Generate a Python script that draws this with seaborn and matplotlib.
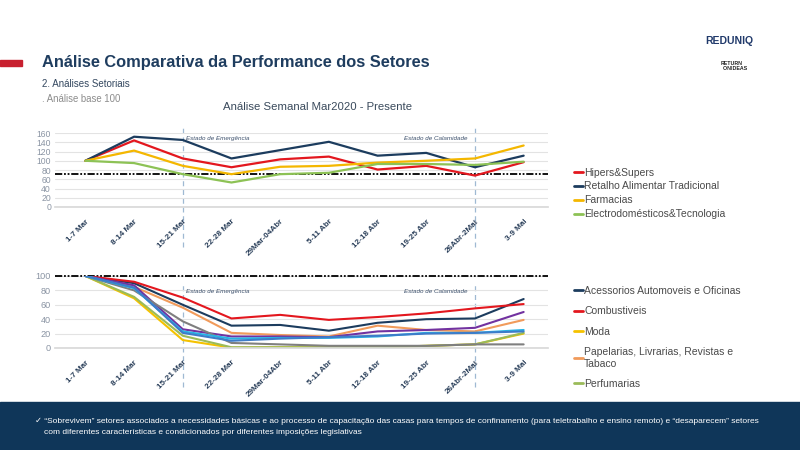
import numpy as np
import pandas as pd
import matplotlib
matplotlib.use("Agg")
import matplotlib.pyplot as plt
import seaborn as sns
from matplotlib.lines import Line2D
from matplotlib.patches import Rectangle
import matplotlib.transforms as mtransforms

# ---------------- data ----------------
weeks = ["1-7 Mar", "8-14 Mar", "15-21 Mar", "22-28 Mar", "29Mar-04Abr",
         "5-11 Abr", "12-18 Abr", "19-25 Abr", "26Abr-2Mai", "3-9 Mai"]

top_names = ["Hipers&Supers", "Retalho Alimentar Tradicional", "Farmacias",
             "Electrodomésticos&Tecnologia"]
hipers = [100, 144, 105, 86, 103, 109, 81, 89, 68, 97]
retalho = [100, 152, 145, 105, 123, 141, 111, 117, 86, 111]
farmacias = [100, 122, 89, 71, 87, 89, 96, 100, 105, 133]
electro = [100, 95, 71, 53, 71, 74, 93, 93, 91, 98]
top_colors = ["#e3171e", "#1c3c5e", "#f4b700", "#8dc255"]
top_ref = 72

bottom_names = ["Acessorios Automoveis e Oficinas", "Combustiveis", "Moda",
                "Papelarias, Livrarias, Revistas e\nTabaco", "Perfumarias",
                "Outro 1", "Outro 2", "Outro 3", "Outro 4"]
acessorios = [100, 90, 60, 31, 32, 24, 35, 40, 41, 68]
combustiveis = [100, 92, 70, 41, 46, 39, 43, 48, 55, 61]
moda = [100, 69, 11, 0.5, 1, 1, 1, 3, 5, 20]
papelarias = [100, 85, 56, 21, 18, 16, 31, 25, 23, 39]
perfumarias = [100, 71, 17, 1, 1, 1, 1, 3, 5, 21]
outro1 = [100, 87, 26, 16, 16, 15, 23, 25, 28, 50]   # purple
outro2 = [100, 80, 37, 7, 5, 3, 3, 3, 5, 5]          # grey
outro3 = [100, 83, 23, 13, 14, 14, 16, 21, 21, 25]   # light blue
outro4 = [100, 84, 21, 10, 13, 15, 17, 20, 21, 23]   # blue
bottom_colors = ["#1c3c5e", "#e3171e", "#f5c200", "#f19b5b", "#9bbb59",
                 "#7232a0", "#7f7f7f", "#27b4e6", "#3d7cc9"]
bottom_ref = 100
n_legend_bottom = 5

events = [(2, "Estado de Emergência"), (8, "Estado de Calamidade")]

# ---------------- style ----------------
sns.set_theme(style="white")
plt.rcParams["font.family"] = ["Liberation Sans", "DejaVu Sans"]

navy = "#1f3d5f"
fig = plt.figure(figsize=(8, 4.5), dpi=100)

def long_df(names, series):
    rows = []
    for n, s in zip(names, series):
        for w, v in zip(weeks, s):
            rows.append((n, w, v))
    return pd.DataFrame(rows, columns=["setor", "semana", "valor"])

def style_axis(ax, yticks, ymax, ref, dash_frac, ev_y, tick_fs):
    ax.set_xlim(-0.62, 9.5)
    ax.set_ylim(0, ymax)
    ax.set_yticks(yticks)
    ax.set_xticks(range(len(weeks)))
    ax.set_xticklabels(weeks, rotation=45, ha="right", rotation_mode="anchor",
                       fontsize=5.9, fontweight="bold", color="#2a3f5a")
    ax.tick_params(axis="x", length=0, pad=8)
    ax.tick_params(axis="y", length=0, pad=3, labelsize=tick_fs, labelcolor="#8a94a3")
    ax.grid(axis="y", color="#e3e3e3", linewidth=0.8)
    ax.set_axisbelow(True)
    for s in ["top", "right", "left"]:
        ax.spines[s].set_visible(False)
    ax.spines["bottom"].set_color("#d9d9d9")
    ax.set_xlabel("")
    ax.set_ylabel("")
    ax.axhline(ref, color="black", linewidth=1.3,
               linestyle=(0, (4, 1, 1, 1, 1, 1)), zorder=1, clip_on=False)
    tr = mtransforms.blended_transform_factory(ax.transData, ax.transAxes)
    for x, label in events:
        ax.plot([x, x], dash_frac, transform=tr, clip_on=False,
                color="#9fb9d3", linewidth=0.9, linestyle=(0, (4, 3)), zorder=0)
    ax.text(2.07, ev_y, events[0][1], transform=tr, fontsize=4.5,
            style="italic", color="#3b4f6b", va="center", ha="left")
    ax.text(7.85, ev_y + 0.0, events[1][1], transform=tr, fontsize=4.5,
            style="italic", color="#3b4f6b", va="center", ha="right")

# ---------------- top chart ----------------
ax1 = fig.add_axes([0.069, 0.54, 0.616, 0.1644])
df_top = long_df(top_names, [hipers, retalho, farmacias, electro])
sns.lineplot(data=df_top, x="semana", y="valor", hue="setor", hue_order=top_names,
             palette=top_colors, linewidth=1.6, legend=False, sort=False, ax=ax1)
style_axis(ax1, range(0, 161, 20), 160, top_ref, [-0.54, 1.07], 0.92, 6.2)

handles1 = [Line2D([], [], color=c, linewidth=2) for c in top_colors]
fig.legend(handles1, top_names, loc="upper left", bbox_to_anchor=(0.712, 0.637),
           frameon=False, fontsize=7.5, handlelength=0.9, handletextpad=0.1,
           labelspacing=0.38, labelcolor="#4a4a4a", borderaxespad=0)

# ---------------- bottom chart ----------------
ax2 = fig.add_axes([0.069, 0.2267, 0.616, 0.16])
df_bot = long_df(bottom_names, [acessorios, combustiveis, moda, papelarias, perfumarias,
                                outro1, outro2, outro3, outro4])
sns.lineplot(data=df_bot, x="semana", y="valor", hue="setor", hue_order=bottom_names,
             palette=bottom_colors, linewidth=1.5, legend=False, sort=False, ax=ax2)
style_axis(ax2, range(0, 101, 20), 100, bottom_ref, [-0.54, 0.92], 0.78, 6.6)

handles2 = [Line2D([], [], color=c, linewidth=2) for c in bottom_colors[:n_legend_bottom]]
fig.legend(handles2, bottom_names[:n_legend_bottom], loc="upper left",
           bbox_to_anchor=(0.712, 0.374), frameon=False, fontsize=7.5,
           handlelength=0.9, handletextpad=0.1, labelspacing=1.0,
           labelcolor="#4a4a4a", borderaxespad=0)

# ---------------- header ----------------
fig.patches.append(Rectangle((0, 1 - 66 / 450), 22 / 800, 6 / 450,
                             transform=fig.transFigure, color="#c8202f"))
fig.text(42 / 800, 1 - 62 / 450, "Análise Comparativa da Performance dos Setores",
         fontsize=11.8, fontweight="bold", color=navy, va="center", ha="left")
fig.text(42 / 800, 1 - 84 / 450, "2. Análises Setoriais", fontsize=7.0,
         color="#33475f", va="center")
fig.text(42 / 800, 1 - 99 / 450, ". Análise base 100", fontsize=6.9,
         color="#8c8c8c", va="center")
fig.text(318 / 800, 1 - 107 / 450, "Análise Semanal Mar2020 - Presente",
         fontsize=8.2, color="#3a4a5c", va="center", ha="center")
fig.text(729 / 800, 1 - 41 / 450, "REDUNIQ", fontsize=7.5, fontweight="bold",
         color="#213a6b", va="center", ha="center")
fig.text(732 / 800, 1 - 66 / 450, "RETURN\n    ONIDEAS", fontsize=3.8,
         fontweight="bold", color="#222222", va="center", ha="center",
         linespacing=0.9)

# ---------------- footer ----------------
fig.patches.append(Rectangle((0, 0), 1, 48 / 450, transform=fig.transFigure,
                             color="#0f3659"))
fig.text(35 / 800, 1 - 421 / 450,
         "✓ \u201cSobrevivem\u201d setores associados a necessidades básicas e ao processo de "
         "capacitação das casas para tempos de confinamento (para teletrabalho e ensino remoto) "
         "e \u201cdesaparecem\u201d setores",
         fontsize=6.0, color="white", va="center", ha="left",
         family=["Liberation Sans", "DejaVu Sans"])
fig.text(44 / 800, 1 - 433 / 450,
         "com diferentes características e condicionados por diferentes imposições legislativas",
         fontsize=6.0, color="white", va="center", ha="left",
         family=["Liberation Sans", "DejaVu Sans"])

fig.savefig("out.png", dpi=100)
